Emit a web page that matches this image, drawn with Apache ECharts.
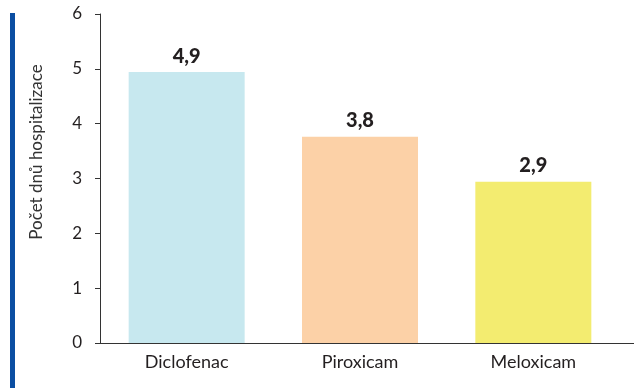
<!DOCTYPE html>
<html>
<head>
<meta charset="utf-8">
<script src="https://cdn.jsdelivr.net/npm/echarts@6/dist/echarts.min.js"></script>
<style>
  html, body { margin: 0; padding: 0; background: #fff; }
  #chart { width: 634px; height: 390px; }
</style>
</head>
<body>
<div id="chart"></div>
<script>
// data
const categories = ["Diclofenac", "Piroxicam", "Meloxicam"]
const values = [4.94, 3.76, 2.94]
const barColors = ["#c7e8ef", "#fcd1a7", "#f3ec70"]
const yTicks = [0, 1, 2, 3, 4, 5, 6]
const yName = "Počet dnů hospitalizace"

const chart = echarts.init(document.getElementById("chart"))

const option = {
  animation: false,
  backgroundColor: "#fff",
  grid: { left: 100, right: 14, top: 14, bottom: 47 },
  xAxis: {
    type: "category",
    data: categories,
    axisLine: { lineStyle: { color: "#333", width: 1 } },
    axisTick: { length: 5, lineStyle: { color: "#333" } },
    axisLabel: {
      color: "#231f20",
      fontFamily: "Lato",
      fontSize: 18,
      margin: 10
    }
  },
  yAxis: {
    type: "value",
    min: yTicks[0],
    max: yTicks[yTicks.length - 1],
    interval: 1,
    axisLine: { show: true, lineStyle: { color: "#333", width: 1 } },
    axisTick: { show: true, length: 5, lineStyle: { color: "#333" } },
    splitLine: { show: false },
    axisLabel: {
      color: "#231f20",
      fontFamily: "Lato",
      fontSize: 17,
      margin: 18
    }
  },
  series: [
    {
      type: "bar",
      barWidth: 116,
      data: values.map((v, i) => ({ value: v, itemStyle: { color: barColors[i] } })),
      label: {
        show: true,
        position: "top",
        distance: 6,
        formatter: p => p.value.toFixed(1).replace(".", ","),
        color: "#231f20",
        fontFamily: "Lato",
        fontWeight: 900,
        fontSize: 20
      }
    }
  ],
  graphic: [
    // blue stripe on the left
    { type: "rect", left: 10, top: 13, shape: { width: 5, height: 375 }, style: { fill: "#0b4ea2" } },
    // axis line runs on a bit past the last category
    { type: "line", shape: { x1: 620, y1: 343.5, x2: 634, y2: 343.5 }, style: { stroke: "#333", lineWidth: 1 } },
    {
      type: "text",
      x: 37,
      y: 152,
      rotation: Math.PI / 2,
      style: {
        text: yName,
        fill: "#333",
        font: "17px Lato",
        align: "center",
        verticalAlign: "middle"
      }
    }
  ]
}

chart.setOption(option)
</script>
</body>
</html>
